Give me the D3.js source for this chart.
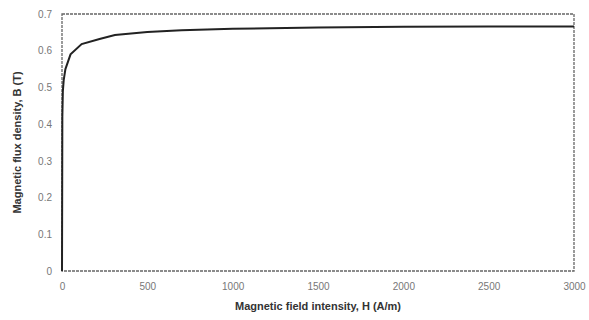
<!DOCTYPE html>
<html>
<head>
<meta charset="utf-8">
<script src="https://cdn.jsdelivr.net/npm/d3@7"></script>
<style>
  body { margin: 0; background: #fff; }
  svg { font-family: Arial, "Liberation Sans", sans-serif; }
</style>
</head>
<body>
<div id="chart"></div>
<script>
// B-H curve
const fieldH = [0, 1, 2, 5, 10, 20, 50, 115, 220, 310, 500, 700, 1000, 1500, 2000, 2500, 3000];
const fluxB = [0, 0.2, 0.42, 0.49, 0.52, 0.55, 0.59, 0.618, 0.632, 0.643, 0.651, 0.656, 0.66, 0.663, 0.665, 0.666, 0.666];
const xTicks = [0, 500, 1000, 1500, 2000, 2500, 3000];
const yTicks = [0, 0.1, 0.2, 0.3, 0.4, 0.5, 0.6, 0.7];

const W = 589, H = 320;
const margin = {top: 14, right: 15, bottom: 49, left: 62};
const width = W - margin.left - margin.right,
      height = H - margin.top - margin.bottom;

const svg = d3.select("#chart").append("svg")
    .attr("width", W).attr("height", H);
const g = svg.append("g")
    .attr("transform", `translate(${margin.left},${margin.top})`);

const x = d3.scaleLinear().domain([0, 3000]).range([0, width]);
const y = d3.scaleLinear().domain([0, 0.7]).range([height, 0]);

// frame
g.append("rect")
    .attr("x", 0).attr("y", 0)
    .attr("width", width).attr("height", height)
    .attr("fill", "none")
    .attr("stroke", "#666")
    .attr("stroke-width", 1.3)
    .attr("stroke-dasharray", "3,1");

// axes (labels only, no tick marks)
const xAxis = g.append("g")
    .attr("transform", `translate(0,${height})`)
    .call(d3.axisBottom(x).tickValues(xTicks).tickSize(0).tickPadding(12).tickFormat(d3.format("d")));
const yAxis = g.append("g")
    .call(d3.axisLeft(y).tickValues(yTicks).tickSize(0).tickPadding(10).tickFormat(d => d === 0 ? "0" : d3.format(".1f")(d)));
[xAxis, yAxis].forEach(a => {
    a.select(".domain").remove();
    a.selectAll("text").attr("fill", "#777").style("font-size", "10px");
});

// curve
const line = d3.line()
    .x((d, i) => x(fieldH[i]))
    .y(d => y(d));
g.append("path")
    .datum(fluxB)
    .attr("fill", "none")
    .attr("stroke", "#222")
    .attr("stroke-width", 2)
    .attr("d", line);

// axis titles
svg.append("text")
    .attr("x", margin.left + width / 2)
    .attr("y", 310)
    .attr("text-anchor", "middle")
    .style("font-size", "11px")
    .style("font-weight", "bold")
    .attr("fill", "#333")
    .text("Magnetic field intensity, H (A/m)");

svg.append("text")
    .attr("transform", `translate(21,${margin.top + height / 2}) rotate(-90)`)
    .attr("text-anchor", "middle")
    .style("font-size", "11px")
    .style("font-weight", "bold")
    .attr("fill", "#333")
    .text("Magnetic flux density, B (T)");
</script>
</body>
</html>
